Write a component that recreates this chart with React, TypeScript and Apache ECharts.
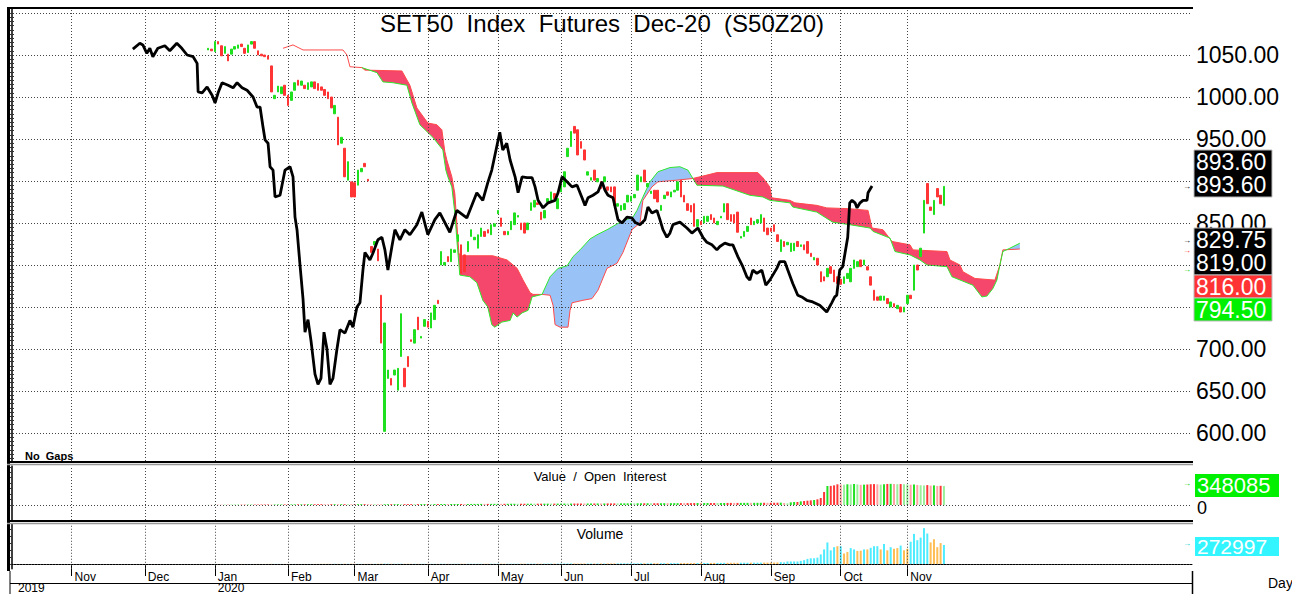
import React, { useEffect, useRef } from "react";
import * as echarts from "echarts";

// ---------------- DATA ----------------
const BAR_COUNT = 355;
const FIRST_BAR = 59;

const monthStarts: [number, string][] = [
  [18, "Nov"], [40, "Dec"], [61, "Jan"], [83, "Feb"], [103, "Mar"], [125, "Apr"],
  [146, "May"], [165, "Jun"], [186, "Jul"], [207, "Aug"], [228, "Sep"], [249, "Oct"], [269, "Nov"],
];
const yearStarts: [number, string][] = [[61, "2020"]];
const firstYear = "2019";

// price labels that stay visible (900, 800 and 750 sit fully behind the value tags)
const priceLabels = [600, 650, 700, 850, 950, 1000, 1050];
const priceGridLevels = [600, 650, 700, 750, 800, 850, 900, 950, 1000, 1050, 1100];

// [open, close, low, high] from bar 59 to bar 280
const candles: number[][] = [
  [1056,1058,1054,1062],[1057,1055,1053,1059],[1054,1066,1052,1068],[1066,1063,1061,1068],[1061,1049,1047,1063],
  [1052,1060,1050,1062],[1051,1043,1041,1053],[1051,1057,1049,1059],[1057,1060,1055,1062],[1058,1062,1056,1064],
  [1063,1060,1058,1065],[1058,1052,1050,1060],[1053,1062,1051,1064],[1063,1066,1061,1068],[1066,1058,1056,1068],
  [1055,1050,1048,1057],[1051,1049,1047,1053],[1050,1048,1046,1052],[1049,1045,1043,1051],[1037,1006,1004,1039],
  [998,1002,996,1017],[1006,1013,1004,1016],[1004,1012,1002,1014],[1014,1002,1000,1016],[1002,990,988,1004],
  [996,1006,994,1008],[1008,1017,1006,1019],[1020,1014,1012,1022],[1014,1019,1012,1021],[1014,1010,1008,1016],
  [1009,1017,1007,1019],[1012,1018,1010,1020],[1018,1010,1008,1020],[1016,1008,1006,1018],[1012,1008,1005,1014],
  [1009,1002,1000,1011],[1006,998,996,1008],[1000,987,985,1002],[980,990,978,992],[976,943,940,978],
  [945,952,943,959],[939,905,902,941],[901,923,899,925],[899,881,869,901],[898,881,870,900],
  [895,913,893,915],[911,915,909,917],[921,917,905,931],[902,900,898,904],
  [822,815,812,854],[824,828,822,831],[819,805,796,821],[764,707,700,766],[602,731,600,740],
  [665,675,660,711],[665,657,653,670],[669,675,659,697],[651,677,645,680],[691,742,688,745],
  [677,655,652,690],[691,679,669,701],[711,709,683,729],[707,723,705,726],[738,723,701,745],
  [713,715,701,717],[727,735,724,738],[733,726,723,736],[725,743,722,746],[735,752,732,757],
  [758,754,742,762],
  [800,816,776,818],[800,803,790,806],[810,804,800,813],[804,819,802,821],[815,818,808,824],
  [828,836,816,838],[824,790,788,826],[812,792,788,815],[816,828,812,830],[834,842,832,845],
  [830,833,822,838],[820,836,818,838],[834,844,832,846],[840,834,831,843],[842,838,835,844],
  [836,848,834,850],[846,849,844,852],[861,865,858,868],[856,846,843,858],[840,836,832,842],
  [836,840,834,843],[842,852,840,855],[848,862,846,864],[857,859,855,861],
  [850,842,838,852],[850,838,835,853],[842,850,840,853],[865,874,862,876],[869,877,867,880],
  [874,872,869,877],[863,854,846,866],[856,865,853,868],[875,879,872,882],[877,887,875,890],
  [885,879,876,888],[867,879,865,882],[887,895,885,898],[893,911,890,914],[929,939,926,942],
  [941,959,938,962],[965,957,953,971],[961,931,928,964],[947,939,935,950],[937,925,915,940],
  [907,911,904,914],[901,904,899,907],[913,901,898,916],[899,903,896,906],[899,891,888,902],
  [899,905,896,908],[893,889,886,896],[893,887,884,896],[893,871,868,896],[870,873,865,877],
  [865,871,862,874],[866,873,863,876],[875,883,872,886],[876,882,873,885],[880,884,877,887],
  [889,907,886,910],[899,905,896,908],[913,899,896,917],[893,897,890,900],[885,888,877,893],
  [889,879,876,892],[889,875,872,892],[865,871,862,874],[879,883,876,886],[887,883,880,890],
  [881,887,878,890],[887,889,884,892],[889,899,886,902],[901,881,878,904],[883,875,872,886],
  [873,865,862,876],[871,863,860,874],
  [873,846,843,876],[846,854,843,857],[852,848,845,855],[850,858,847,861],[852,858,849,861],
  [860,854,851,863],[856,850,847,859],[848,852,845,855],[856,858,854,861],[863,873,860,876],
  [873,854,851,876],[860,852,849,863],[860,850,847,863],[863,839,836,866],[832,834,829,837],
  [834,840,831,843],[840,846,837,849],[856,848,845,859],[848,852,845,855],[850,854,847,857],
  [850,860,847,863],[856,840,837,859],[844,836,833,847],[844,840,837,847],[848,840,837,851],
  [836,828,825,839],[816,830,813,833],[828,822,819,831],[824,827,820,830],[816,826,813,829],
  [817,826,814,829],[828,822,819,831],[822,824,819,827],[824,818,815,827],[828,814,811,831],
  [814,810,806,816],[806,809,803,813],[808,800,797,811],[792,780,777,795],[786,781,777,789],
  [786,796,783,799],[798,790,787,801],[794,780,777,797],[786,778,775,789],[783,777,773,786],
  [778,786,775,789],[784,790,781,793],[780,796,777,799],[796,806,793,809],[798,804,795,807],
  [806,798,795,809],[800,806,797,809],[798,794,791,801],[786,776,773,789],[770,758,755,773],
  [762,758,755,765],[758,763,755,766],[758,763,755,766],[760,754,751,763],[750,756,747,759],
  [754,750,747,757],[748,752,745,755],[750,744,737,753],[744,750,741,753],[754,764,751,767],
  [764,760,757,767],[770,800,767,803],[800,794,786,803],[810,820,807,830],[838,877,835,880],
  [897,873,870,903],[869,865,860,875],[860,877,857,880],[891,881,878,894],[883,873,870,886],
  [871,893.6,868,899],
];

// lagging line: [bar position, value]
const chikou: number[][] = [
  [36.4,1057],[38.5,1064],[39.4,1062],[40.6,1052],[41.5,1058],[42.4,1048],[43.9,1058],[46.0,1061],[47.5,1055],[49.6,1064],
  [51.1,1058],[52.7,1050],[54.5,1048],[55.7,1040],[56.0,1006],[57.2,1005],[58.7,1012],[60.2,1002],[61.1,993],[62.0,1005],
  [63.2,1017],[65.0,1014],[66.5,1011],[67.7,1017],[69.2,1011],[70.7,1008],[72.5,1000],[73.7,988],[74.6,988],[75.5,964],
  [76.1,949],[77.0,945],[77.6,917],[78.5,913],[79.1,881],[80.6,883],[82.1,913],[83.6,917],[84.5,905],[85.1,857],
  [85.7,842],[86.6,800],[87.5,760],[88.1,720],[89.0,735],[89.9,710],[91.1,670],[92.0,658],[92.9,665],[93.8,720],
  [94.7,700],[95.6,658],[96.5,665],[97.7,700],[98.6,723],[100.1,719],[101.6,734],[102.5,726],[103.7,750],[104.6,755],
  [105.5,794],[106.1,815],[107.6,806],[108.5,814],[110.0,830],[111.2,833],[112.1,818],[113.0,794],[114.2,822],[115.1,842],
  [116.6,830],[118.1,842],[119.6,836],[121.7,848],[123.2,863],[125.0,836],[127.1,854],[128.6,862],[131.6,839],[133.7,865],
  [136.7,856],[139.7,886],[141.5,877],[143.0,898],[144.2,913],[146.6,958],[147.5,937],[148.7,945],[149.7,925],[151.2,905],
  [152.1,886],[153.3,905],[154.8,904],[156.3,904],[157.2,893],[158.1,877],[159.6,868],[161.1,874],[163.2,877],[164.1,886],
  [165.3,905],[166.8,899],[168.3,893],[169.8,895],[171.3,880],[172.2,871],[173.1,880],[174.6,883],[176.1,887],[177.3,899],
  [178.2,889],[179.1,883],[180.6,880],[182.1,854],[183.3,850],[184.8,857],[186.3,856],[187.2,851],[188.7,848],[190.2,854],
  [191.1,869],[192.3,862],[193.8,865],[194.7,854],[195.6,842],[196.8,833],[197.7,838],[198.6,848],[200.7,851],[202.8,844],
  [204.3,838],[206.1,844],[207.6,833],[208.8,827],[210.3,824],[211.8,818],[212.7,822],[214.2,826],[215.7,824],[216.6,824],
  [218.1,810],[219.6,798],[220.8,786],[221.7,782],[222.6,794],[223.8,790],[225.3,794],[226.5,776],[227.7,782],[229.8,796],
  [230.7,804],[232.2,804],[233.1,794],[234.6,778],[236.1,764],[237.3,762],[238.8,758],[240.6,756],[242.7,752],[244.8,744],
  [246.3,755],[247.2,762],[247.8,764],[248.7,794],[249.6,798],[251.1,833],[251.7,874],[252.4,877],[253.3,874],[253.9,868],
  [254.8,874],[255.7,877],[256.9,877],[257.2,886],[258.4,894],
];

// leading span B (red) and span A (green): [bar position, value]
const spanB: number[][] = [
  [81.5,1058],[84.5,1062],[87.5,1056],[99.5,1056],[100.7,1050],[101.6,1036],[105.2,1035],[106.1,1032],[117.2,1031],[119.6,1014],
  [121.7,987],[125.0,969],[127.7,967],[129.2,961],[130.1,935],[130.7,925],[132.2,905],[133.1,885],[133.7,850],[134.3,815],
  [134.6,811],[144.5,811],[148.8,806],[151.8,796],[153.6,782],[155.7,767],[156.6,765],[159.3,765],[161.7,764],[162.6,752],
  [163.2,729],[164.7,726],[167.1,726],[167.7,746],[168.3,755],[171.6,758],[174.3,760],[176.1,770],[178.8,796],[181.8,802],
  [183.6,815],[186.3,842],[188.7,850],[189.6,877],[192.3,893],[194.1,899],[199.8,901],[204.6,903],[208.8,907],[211.8,910],
  [224.1,910],[225.6,904],[227.7,893],[228.3,880],[233.7,877],[235.2,874],[241.8,871],[244.8,868],[251.7,867],[257.2,865],
  [258.4,844],[261.7,842],[264.4,828],[269.8,824],[270.7,818],[280.9,816],[281.8,806],[284.8,800],[285.7,792],[289.3,784],
  [295.3,782],[296.8,800],[297.7,818],[302.8,819],
];
const spanA: number[][] = [
  [105.2,1035],[109.7,1029],[111.5,1018],[114.5,1017],[118.7,1014],[120.2,993],[122.6,967],[126.5,952],[129.5,937],[130.4,913],
  [131.0,905],[132.2,893],[133.1,862],[133.7,830],[134.6,788],[137.6,786],[139.7,779],[141.5,758],[143.0,750],[144.2,729],
  [145.1,726],[147.2,732],[149.7,734],[150.6,743],[151.8,738],[153.3,743],[155.1,746],[156.3,762],[159.3,765],[161.7,786],
  [164.1,796],[166.8,799],[168.6,810],[170.7,818],[173.7,831],[175.8,836],[178.8,842],[180.6,846],[182.7,851],[186.6,857],
  [187.8,865],[189.6,881],[191.7,899],[194.1,911],[197.7,916],[200.7,917],[203.1,913],[204.6,903],[205.8,895],[213.6,894],
  [221.7,883],[225.6,881],[227.7,877],[233.7,874],[234.6,869],[241.8,863],[246.6,851],[251.7,848],[257.8,844],[258.7,840],
  [263.8,832],[265.3,816],[269.8,812],[272.8,806],[274.9,800],[280.9,798],[282.4,786],[288.7,776],[291.4,762],[292.9,763],
  [294.7,772],[295.9,782],[296.8,800],[297.7,816],[299.8,820],[302.8,826],
];
// cloud regions: [from, to, bearish(1) / bullish(0)]
const cloudRegions: number[][] = [[105.2,159.3,1],[159.3,204.6,0],[204.6,296.8,1],[296.8,302.8,0]];

// open interest from bar 59 to bar 280
const openInterest: number[] = [
  1200,1800,2500,2900,3400,3800,4100,4600,5000,5300,5900,6200,6600,7100,7500,7800,8300,8700,9000,8400,8900,9300,9600,10100,10500,10800,11300,11600,12000,12400,12900,13100,13600,13900,14400,14000,13500,13900,14300,13800,14200,14600,
  14100,13700,14200,14800,15100,15500,15000,14600,14200,13800,13300,13700,14100,14500,14900,15300,15000,15400,15800,16100,15700,16000,16400,16800,17100,16700,17000,17400,17700,18100,17800,18200,18500,18900,19200,18800,19100,19500,19800,20200,
  20500,20100,20400,20800,21100,21500,21200,21600,21900,22300,22700,22400,22800,23100,23500,23900,23600,24000,24400,24700,25100,24800,25200,25600,25900,26300,26000,26400,26700,27100,27500,27200,27600,27900,28300,28700,28400,28800,29100,29500,
  29900,29600,30000,30400,30700,31100,30800,31200,31600,31900,32300,32000,32400,32800,33100,33500,33200,33600,34000,34300,34700,34400,34800,35200,35500,35900,35600,36000,36400,36700,37100,36800,37200,37600,37900,38300,38000,38400,38800,39100,39500,39200,39600,40000,40300,40700,40400,40800,41200,41500,
  43000,37000,31000,49000,55000,55000,67000,73000,79000,85000,92000,104000,128000,238000,348000,350000,360000,379000,375000,372000,
  380000,377000,385000,378000,370000,373000,376000,381000,383000,379000,374000,380000,386000,388000,385000,381000,384000,380000,377000,372000,
  376000,368000,362000,358000,365000,355000,360000,350000,352000,348085,
];

// volume from bar 59 to bar 280
const volume: number[] = [
  600,900,1200,800,1500,1100,700,1300,1000,900,1400,1200,800,1100,1600,1300,900,1000,1200,2600,1900,1500,1300,1700,1400,1100,1300,1000,1200,1500,1300,1100,1400,1600,1800,2200,2700,2000,2900,2400,2100,3200,
  2800,3500,2600,2300,2000,2200,1900,3400,2700,3100,4200,4800,3900,3300,2900,3600,3800,3000,3200,2700,2500,2900,2400,2600,2800,2300,2500,2200,3100,2900,2600,2400,2700,2900,3200,2800,3000,2700,2500,2900,
  3100,2800,3300,3600,3200,3400,3800,3500,3300,3700,3900,3600,4000,4300,3900,4200,4600,4400,4100,4500,4800,5200,4700,5000,5600,6300,6900,7400,6800,6200,5900,6300,6600,6100,6400,6800,7200,6900,7400,7800,
  8200,7900,8500,8800,8400,9100,9600,9200,9800,10300,9700,10100,10800,10400,11200,11600,11000,11800,12300,11900,12600,13200,12700,13400,13900,13500,14200,14800,14300,15000,15600,15100,15800,16400,15900,16600,17200,16700,17500,18100,17600,18400,19000,18500,19300,19900,19400,20200,21000,22500,
  27000,23000,36000,36000,36000,36000,45000,55000,73000,82000,82000,91000,137000,209000,309000,196000,241000,255000,255000,150000,
  173000,228000,209000,187000,191000,209000,209000,232000,255000,255000,209000,287000,196000,241000,218000,228000,264000,196000,218000,319000,
  432000,341000,378000,514000,437000,309000,355000,241000,300000,272997,
];
// volume bar tone read for the last 50 bars (231..280): c = cyan, o = orange
const volumeToneTail = "ccccccccccccccccc" + "ocoocc" + "ooco" + "ccco" + "coco" + "oc" + "oo" + "cccccc" + "oooo" + "c";

const lastTags = {
  close: "893.60",
  lagging: "893.60",
  spanA: "829.75",
  tenkan: "819.00",
  spanB: "816.00",
  kijun: "794.50",
  openInterest: "348085",
  volume: "272997",
};

// ---------------- STYLE / OPTION ----------------
const FONT = "'Liberation Sans', Arial, sans-serif";
const NARROW = "'Liberation Sans Narrow', 'Liberation Sans', Arial, sans-serif";
const UP = "#1ee01e";
const DOWN = "#ff3434";
const CLOUD_RED = "#f5466b";
const CLOUD_BLUE = "#99c3f6";
const GRID_LINE = { color: "#444", type: [1, 2] as number[], width: 1 };

const P_MAX = 1050 + (55 - 9) / 0.84;
const P_MIN = 1050 - (461 - 55) / 0.84;
const OI_MIN = -15 * 18320;
const OI_MAX = 39 * 18320;
const V_MIN = -5 * 13650;
const V_MAX = 42 * 13650;

function buildOption() {
  const categories = Array.from({ length: BAR_COUNT }, (_, i) => String(i));
  const monthName = new Map<number, string>(monthStarts.map(([i, n]) => [i, n]));
  const yearName = new Map<number, string>(yearStarts.map(([i, n]) => [i, n]));
  const candleAt = (i: number) => candles[i - FIRST_BAR];
  const empty = ["-", "-", "-", "-"];

  const bodyData = categories.map((_, i) => {
    const c = candleAt(i);
    return c ? [c[0], c[1], Math.min(c[0], c[1]), Math.max(c[0], c[1])] : empty;
  });
  const wickData = categories.map((_, i) => {
    const c = candleAt(i);
    return c ? [c[2], c[3], c[2], c[3]] : empty;
  });

  const tone = volumeToneTail;

  const oiData = categories.map((_, i) => {
    const k = i - FIRST_BAR;
    if (k < 0 || k >= openInterest.length) return "-";
    const v = openInterest[k];
    const prev = k > 0 ? openInterest[k - 1] : v;
    const c = candles[k];
    const up = c[1] >= c[0];
    const inc = v >= prev;
    const color = up ? (inc ? "#22e022" : "#9af09a") : inc ? "#ff3636" : "#ffa2a2";
    return { value: v, itemStyle: { color } };
  });
  const volData = categories.map((_, i) => {
    const k = i - FIRST_BAR;
    if (k < 0 || k >= volume.length) return "-";
    const tailIdx = k - (volume.length - tone.length);
    let isCyan: boolean;
    if (tailIdx >= 0) isCyan = tone[tailIdx] === "c";
    else isCyan = candles[k][1] >= candles[k][0];
    return { value: volume[k], itemStyle: { color: isCyan ? "#4fecff" : "#ffbe55" } };
  });

  const priceTicks: number[] = [];
  for (let v = 570; v <= 1100; v += 5) priceTicks.push(v);

  const hiddenValueX = (gridIndex: number) => ({
    gridIndex, type: "value", min: -0.5, max: BAR_COUNT - 0.5, show: false,
  });
  const hiddenCatX = (gridIndex: number) => ({
    gridIndex, type: "category", data: categories, boundaryGap: true, show: false,
  });
  const monthLineData = monthStarts.map(([i]) => ({ xAxis: i }));
  const markStyle = (data: any[]) => ({
    silent: true, symbol: ["none", "none"], animation: false, label: { show: false },
    lineStyle: GRID_LINE, emphasis: { disabled: true }, data,
  });

  const Z = 100;
  const tagBox = (y: number, h: number, fill: string, lines: string[]) => [
    { type: "rect", z: Z, shape: { x: 1194, y, width: 78, height: h }, style: { fill, stroke: "#bbb", lineWidth: 1 } },
    ...lines.map((t, j) => ({
      type: "text", z: Z + 1, x: 1196, y: y + 12 + j * 23,
      style: { text: t, fill: "#fff", font: `23px ${FONT}`, verticalAlign: "middle", align: "left" },
    })),
  ];
  const arrow = (y: number, color: string) => ({
    type: "text", x: 1183, y, z: Z,
    style: { text: "→", fill: color, font: `8px ${FONT}`, verticalAlign: "middle" },
  });
  const hline = (y: number, color: string, w: number, x1 = 7, x2 = 1193) => ({
    type: "line", z: 50, shape: { x1, y1: y, x2, y2: y }, style: { stroke: color, lineWidth: w },
  });

  return {
    animation: false,
    backgroundColor: "#fff",
    grid: [
      { left: 10, top: 9, width: 1182, height: 452 },
      { left: 10, top: 466, width: 1182, height: 54 },
      { left: 10, top: 524, width: 1182, height: 47 },
    ],
    xAxis: [
      hiddenCatX(0),
      hiddenValueX(0),
      hiddenCatX(1),
      hiddenValueX(1),
      {
        gridIndex: 2, type: "category", data: categories, boundaryGap: true, position: "bottom",
        axisLine: { show: true, lineStyle: { color: "#000", width: 1 } },
        axisTick: {
          show: true, alignWithLabel: true, length: 12,
          interval: (i: number) => monthName.has(i), lineStyle: { color: "#000" },
        },
        axisLabel: {
          show: true, interval: (i: number) => monthName.has(i),
          formatter: (v: string) => {
            const i = Number(v);
            const y = yearName.get(i);
            return y ? `${monthName.get(i)}\n${y}` : monthName.get(i) || "";
          },
          align: "left", margin: 2, padding: [0, 0, 0, 3], fontSize: 12, lineHeight: 11.5,
          fontFamily: NARROW, color: "#000",
        },
        splitLine: { show: false },
      },
      hiddenValueX(2),
    ],
    yAxis: [
      {
        gridIndex: 0, type: "value", position: "right", min: P_MIN, max: P_MAX,
        axisLine: { show: true, lineStyle: { color: "#000", width: 1.5 } },
        axisTick: { show: true, inside: true, length: 3, customValues: priceTicks, lineStyle: { color: "#333" } },
        axisLabel: {
          show: true, customValues: priceLabels, formatter: (v: number) => Number(v).toFixed(2),
          color: "#000", fontSize: 23, fontFamily: FONT, margin: 4,
        },
        splitLine: { show: false },
      },
      {
        gridIndex: 0, type: "value", position: "left", min: P_MIN, max: P_MAX,
        axisLine: { show: false },
        axisTick: { show: true, inside: true, length: 4, customValues: priceTicks, lineStyle: { color: "#333" } },
        axisLabel: { show: false }, splitLine: { show: false },
      },
      {
        gridIndex: 1, type: "value", position: "right", min: OI_MIN, max: OI_MAX,
        axisLine: { show: true, lineStyle: { color: "#000", width: 1.5 } },
        axisTick: { show: true, inside: true, length: 3, customValues: [0, 100000, 200000, 300000, 400000, 500000, 600000, 700000], lineStyle: { color: "#333" } },
        axisLabel: { show: false }, splitLine: { show: false },
      },
      {
        gridIndex: 2, type: "value", position: "right", min: V_MIN, max: V_MAX,
        axisLine: { show: true, lineStyle: { color: "#000", width: 1.5 } },
        axisTick: { show: true, inside: true, length: 3, customValues: [0, 100000, 200000, 300000, 400000, 500000], lineStyle: { color: "#333" } },
        axisLabel: { show: false }, splitLine: { show: false },
      },
    ],
    series: [
      {
        type: "line", xAxisIndex: 1, yAxisIndex: 0, data: [], z: 1, silent: true,
        markLine: markStyle([...priceGridLevels.map((v) => ({ yAxis: v })), ...monthLineData]),
      },
      {
        type: "custom", xAxisIndex: 1, yAxisIndex: 0, z: 2, silent: true, clip: true,
        data: cloudRegions.map((r) => [r[0], 900]),
        encode: { x: 0, y: 1 },
        renderItem: (params: any, api: any) => {
          const [from, to, bear] = cloudRegions[params.dataIndex];
          const inRange = (p: number[]) => p[0] >= from - 1e-6 && p[0] <= to + 1e-6;
          const top = spanB.filter(inRange);
          const bottom = spanA.filter(inRange).reverse();
          const points = [...top, ...bottom].map((p) => api.coord(p));
          return {
            type: "polygon", shape: { points },
            style: { fill: bear ? CLOUD_RED : CLOUD_BLUE, stroke: "none" },
          };
        },
      },
      {
        type: "line", xAxisIndex: 1, yAxisIndex: 0, data: spanB, symbol: "none", showSymbol: false,
        lineStyle: { color: "#ff4a4a", width: 1 }, z: 3, silent: true,
      },
      {
        type: "line", xAxisIndex: 1, yAxisIndex: 0, data: spanA, symbol: "none", showSymbol: false,
        lineStyle: { color: "#2ee82e", width: 1 }, z: 3, silent: true,
      },
      {
        type: "candlestick", xAxisIndex: 0, yAxisIndex: 0, data: wickData, barWidth: 1, z: 4, silent: true,
        itemStyle: { color: "#7a7a7a", color0: "#7a7a7a", borderColor: "#7a7a7a", borderColor0: "#7a7a7a", borderWidth: 0 },
      },
      {
        type: "candlestick", xAxisIndex: 0, yAxisIndex: 0, data: bodyData, barWidth: 2, z: 5, silent: true,
        itemStyle: { color: UP, color0: DOWN, borderColor: UP, borderColor0: DOWN, borderWidth: 1 },
      },
      {
        type: "line", xAxisIndex: 1, yAxisIndex: 0, data: chikou, symbol: "none", showSymbol: false,
        lineStyle: { color: "#000", width: 2.8 }, z: 6, silent: true,
      },
      {
        type: "line", xAxisIndex: 3, yAxisIndex: 2, data: [], z: 1, silent: true,
        markLine: markStyle([{ yAxis: 0 }, ...monthLineData]),
      },
      {
        type: "bar", xAxisIndex: 2, yAxisIndex: 2, data: oiData, barWidth: 2, z: 3, silent: true,
      },
      {
        type: "line", xAxisIndex: 5, yAxisIndex: 3, data: [], z: 1, silent: true,
        markLine: markStyle([{ yAxis: 0 }, ...monthLineData]),
      },
      {
        type: "bar", xAxisIndex: 4, yAxisIndex: 3, data: volData, barWidth: 2, z: 3, silent: true,
      },
    ],
    graphic: [
      // frame
      hline(8, "#000", 2),
      { type: "line", z: 50, shape: { x1: 8.5, y1: 7, x2: 8.5, y2: 571 }, style: { stroke: "#000", lineWidth: 3 } },
      { type: "line", z: 50, shape: { x1: 10, y1: 571, x2: 10, y2: 594 }, style: { stroke: "#000", lineWidth: 1 } },
      hline(462, "#000", 2),
      hline(464.5, "#999", 1.5),
      hline(521, "#000", 2),
      hline(523.5, "#999", 1.5),
      hline(583.5, "#000", 1, 10, 1192),
      { type: "line", z: 50, shape: { x1: 1192.5, y1: 571, x2: 1192.5, y2: 594 }, style: { stroke: "#000", lineWidth: 1.5 } },
      // texts
      {
        type: "text", x: 602, y: 23, z: 60,
        style: { text: "SET50  Index  Futures  Dec-20  (S50Z20)", font: `24px ${FONT}`, fill: "#000", align: "center", verticalAlign: "middle" },
      },
      {
        type: "text", x: 25, y: 456, z: 60,
        style: { text: "No  Gaps", font: `bold 11px ${NARROW}`, fill: "#000", verticalAlign: "middle" },
      },
      {
        type: "text", x: 600, y: 476, z: 60,
        style: { text: "Value  /  Open  Interest", font: `13px ${FONT}`, fill: "#000", align: "center", verticalAlign: "middle" },
      },
      {
        type: "text", x: 600, y: 534, z: 60,
        style: { text: "Volume", font: `14px ${FONT}`, fill: "#000", align: "center", verticalAlign: "middle" },
      },
      {
        type: "text", x: 18, y: 588, z: 60,
        style: { text: firstYear, font: `12px ${NARROW}`, fill: "#000", verticalAlign: "middle" },
      },
      {
        type: "text", x: 1268, y: 583, z: 60,
        style: { text: "Day", font: `14px ${FONT}`, fill: "#000", verticalAlign: "middle" },
      },
      // last value tags
      ...tagBox(150, 47, "#000", [lastTags.close, lastTags.lagging]),
      ...tagBox(228, 47, "#000", [lastTags.spanA, lastTags.tenkan]),
      ...tagBox(275, 23, "#ff3333", [lastTags.spanB]),
      ...tagBox(298, 23, "#00f000", [lastTags.kijun]),
      { type: "rect", z: Z, shape: { x: 1195, y: 474, width: 84, height: 23 }, style: { fill: "#00f000" } },
      { type: "text", z: Z + 1, x: 1197, y: 485.5, style: { text: lastTags.openInterest, fill: "#fff", font: `22px ${NARROW}`, verticalAlign: "middle" } },
      { type: "text", z: Z + 1, x: 1197, y: 508, style: { text: "0", fill: "#000", font: `18px ${NARROW}`, verticalAlign: "middle" } },
      { type: "rect", z: Z, shape: { x: 1195, y: 537, width: 84, height: 19 }, style: { fill: "#33f5ff" } },
      { type: "text", z: Z + 1, x: 1197, y: 546.5, style: { text: lastTags.volume, fill: "#fff", font: `21px ${NARROW}`, verticalAlign: "middle" } },
      arrow(186, "#000"),
      arrow(240, "#000"),
      arrow(250, "#ff3333"),
      arrow(269, "#00cc00"),
      arrow(483, "#00cc00"),
      arrow(543, "#00cccc"),
    ],
  };
}

export default function App() {
  const ref = useRef<HTMLDivElement>(null);
  useEffect(() => {
    const chart = echarts.init(ref.current as HTMLDivElement, null, { renderer: "svg" });
    chart.setOption(buildOption() as any);
    return () => chart.dispose();
  }, []);
  return (
    <div
      ref={ref}
      style={{ position: "fixed", left: 0, top: 0, width: 1292, height: 594, background: "#fff" }}
    />
  );
}
